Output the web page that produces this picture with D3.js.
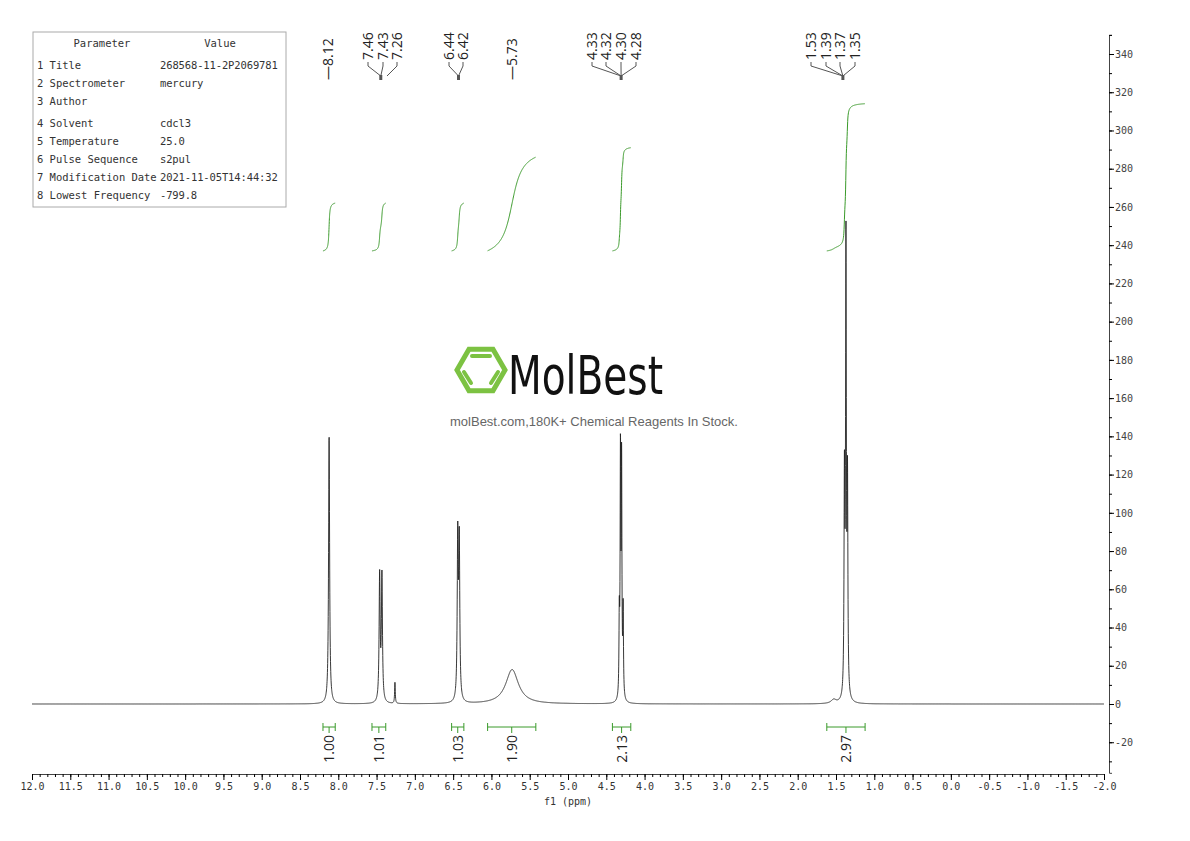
<!DOCTYPE html><html><head><meta charset="utf-8"><script src="https://cdn.jsdelivr.net/npm/d3@7"></script>
<style>body{margin:0;background:#fff}</style></head><body><svg id="c" width="1190" height="841"></svg>
<script>
const paramNames=["1 Title","2 Spectrometer","3 Author","4 Solvent","5 Temperature","6 Pulse Sequence","7 Modification Date","8 Lowest Frequency"];
const paramValues=["268568-11-2P2069781","mercury","","cdcl3","25.0","s2pul","2021-11-05T14:44:32","-799.8"];
const peakPos=[8.12,7.46,7.43,7.26,6.44,6.42,5.73,4.33,4.315,4.30,4.28,1.53,1.39,1.37,1.35];
const peakH=[140,66,66,11,84,81,18,40,126,121,46,2,112,236,108];
const peakW=[0.008,0.008,0.008,0.005,0.008,0.008,0.1,0.005,0.005,0.005,0.005,0.04,0.006,0.006,0.006];
const shiftLabels=["8.12","7.46","7.43","7.26","6.44","6.42","5.73","4.33","4.32","4.30","4.28","1.53","1.39","1.37","1.35"];
const labelGroups=[[0],[1,2],[3],[4,5],[6],[7,8,9,10],[11,12,13,14]];
const intFrom=[8.2,7.56,6.52,6.05,4.42,1.62];
const intTo=[8.04,7.38,6.36,5.42,4.18,1.12];
const intTop=[262,262,262,286,291,314];
const intValues=["1.00","1.01","1.03","1.90","2.13","2.97"];
const xTicks=d3.range(12,-2.01,-0.5);
const yTicks=d3.range(-20,341,20);

const svg=d3.select("#c");
const x=d3.scaleLinear().domain([12,-2]).range([32,1104]);
const y=d3.scaleLinear().domain([0,340]).range([704,54]);
const serif="'DejaVu Sans Mono','Liberation Mono',monospace";
const spec=p=>{let s=0;for(let i=0;i<peakPos.length;i++){const d=(p-peakPos[i])/peakW[i];s+=peakH[i]/(1+d*d);}return s;};
const pts=[];for(let p=12;p>=-2;p-=0.0015)pts.push([p,spec(p)]);
svg.append("path").attr("d",d3.line().x(d=>x(d[0])).y(d=>y(d[1]))(pts)).attr("fill","none").attr("stroke","#222").attr("stroke-width",0.9);
intFrom.forEach((a,k)=>{const b=intTo[k];const xs=d3.range(a,b,-(a-b)/200);let c=0;const cum=xs.map(p=>{c+=spec(p);return c;});const tot=c;
 const line=xs.map((p,i)=>[p,237+(intTop[k]-237)*cum[i]/tot]);
 svg.append("path").attr("d",d3.line().x(d=>x(d[0])).y(d=>y(d[1]))(line)).attr("fill","none").attr("stroke","#3a9a2a").attr("stroke-width",1);
 const cx=(x(a)+x(b))/2, yb=727;
 svg.append("path").attr("d",`M${x(a)},${yb}H${x(b)}M${x(a)},${yb-4}V${yb+4}M${x(b)},${yb-4}V${yb+4}M${cx},${yb}V${yb+6}`).attr("stroke","#3a9a2a").attr("fill","none");
 svg.append("text").attr("transform",`translate(${cx+5},${yb+8}) rotate(-90)`).attr("text-anchor","end").attr("font-family","'Open Sans',sans-serif").attr("font-size",14).attr("fill","#222").text(intValues[k]);
});
svg.append("g").attr("transform","translate(0,774)").call(d3.axisBottom(x).tickValues(d3.range(12,-2.01,-0.1)).tickSize(3).tickFormat("")).call(g=>g.select(".domain").attr("stroke","#444"));
svg.append("g").attr("transform","translate(0,774)").call(d3.axisBottom(x).tickValues(xTicks).tickSize(6).tickFormat(d=>d3.format(".1f")(d).replace("−","-"))).call(g=>{g.select(".domain").remove();g.selectAll("text").attr("font-family",serif).attr("font-size",10).attr("fill","#333");});
svg.append("text").attr("x",x(5)).attr("y",805).attr("text-anchor","middle").attr("font-family",serif).attr("font-size",10).attr("fill","#333").text("f1 (ppm)");
const yr=d3.scaleLinear().domain([-36,350]).range([y(-36),y(350)]);
svg.append("g").attr("transform","translate(1109,0)").call(d3.axisRight(yr).tickValues(d3.range(-30,351,10)).tickSize(3).tickFormat("")).call(g=>g.select(".domain").attr("stroke","#444"));
svg.append("g").attr("transform","translate(1109,0)").call(d3.axisRight(y).tickValues(yTicks).tickSize(5).tickFormat(d=>String(d).replace("−","-"))).call(g=>{g.select(".domain").remove();g.selectAll("text").attr("font-family",serif).attr("font-size",10).attr("fill","#444").attr("x",6);});
const lx=[328,368,383,397,449,463,512,592,606,621,636,811,826,840,855];
labelGroups.forEach(gr=>{const px=gr.map(i=>x(peakPos[i])); const m=d3.mean(px);
 gr.forEach((i,j)=>{const single=gr.length==1&&i!=3;
  svg.append("text").attr("transform",`translate(${lx[i]+5},${single?80:60}) rotate(-90)`).attr("font-family","'Open Sans',sans-serif").attr("font-size",14).attr("fill","#222").text((single?"—":"")+shiftLabels[i]);
  if(!single){svg.append("path").attr("d",`M${lx[i]},62L${lx[i]},66L${i==3?lx[i]-10:m},76`).attr("stroke","#555").attr("fill","none");}});
 if(gr.length>1)svg.append("path").attr("d",`M${m},75V80`).attr("stroke","#555").attr("stroke-width",3);
});
svg.append("rect").attr("x",33).attr("y",32).attr("width",253).attr("height",175).attr("fill","none").attr("stroke","#aaa");
svg.append("text").attr("x",102).attr("y",47).attr("text-anchor","middle").attr("font-family",serif).attr("font-size",10.5).attr("fill","#333").text("Parameter");
svg.append("text").attr("x",220).attr("y",47).attr("text-anchor","middle").attr("font-family",serif).attr("font-size",10.5).attr("fill","#333").text("Value");
const rowY=[69,87,105,127,145,163,181,199];
paramNames.forEach((n,i)=>{svg.append("text").attr("x",37).attr("y",rowY[i]).attr("font-family",serif).attr("font-size",10.5).attr("textLength",n.length*6.3).attr("fill","#333").text(n);
 if(paramValues[i])svg.append("text").attr("x",160).attr("y",rowY[i]).attr("font-family",serif).attr("font-size",10.5).attr("textLength",paramValues[i].length*6.2).attr("fill","#333").text(paramValues[i]);});
const hx=481,hy=370,r=24;
const hex=d3.range(6).map(i=>[hx+r*Math.cos(i*Math.PI/3),hy+r*Math.sin(i*Math.PI/3)]);
svg.append("polygon").attr("points",hex.join(" ")).attr("fill","none").attr("stroke","#7cc242").attr("stroke-width",5);
svg.append("path").attr("d",`M${hx-9},${hy-14}H${hx+9}M${hx-17},${hy+2}L${hx-10},${hy+13}M${hx+17},${hy+2}L${hx+10},${hy+13}`).attr("stroke","#7cc242").attr("stroke-width",4).attr("stroke-linecap","round");
svg.append("text").attr("x",508).attr("y",394).attr("font-family","'DejaVu Sans Condensed','Liberation Sans Narrow',sans-serif").attr("font-size",54).attr("textLength",155).attr("lengthAdjust","spacingAndGlyphs").attr("fill","#111").text("MolBest");
svg.append("text").attr("x",594).attr("y",426).attr("text-anchor","middle").attr("font-family","'Liberation Sans',Arial,sans-serif").attr("font-size",13).attr("fill","#666").text("molBest.com,180K+ Chemical Reagents In Stock.");
</script></body></html>
